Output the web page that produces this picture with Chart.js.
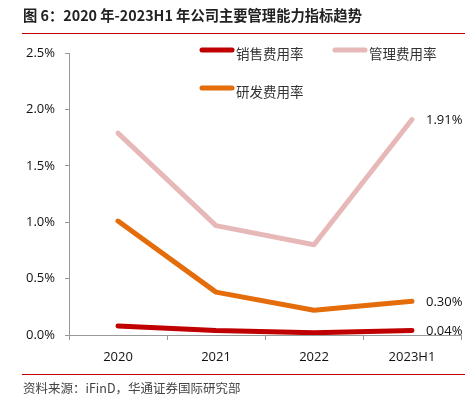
<!DOCTYPE html>
<html><head><meta charset="utf-8">
<script src="https://cdn.jsdelivr.net/npm/chart.js@4/dist/chart.umd.min.js"></script>
<style>
html,body{margin:0;padding:0;background:#fff;}
#wrap{position:relative;width:472px;height:398px;overflow:hidden;}
#c{position:absolute;left:0;top:0;}
#title{position:absolute;left:23px;top:4px;font:bold 14.3px "Noto Sans CJK SC",sans-serif;color:#222;white-space:nowrap;}
#line1{position:absolute;left:22px;top:33px;width:443px;height:1px;background:#C00000;}
#line2{position:absolute;left:22px;top:374px;width:443px;height:1px;background:#C00000;}
#src{position:absolute;left:23px;top:378px;font:12.5px "Noto Sans CJK SC",sans-serif;color:#444;white-space:nowrap;}
</style></head>
<body><div id="wrap">
<canvas id="c" width="472" height="398"></canvas>
<div id="title">图 6：2020 年-2023H1 年公司主要管理能力指标趋势</div>
<div id="line1"></div>
<div id="src">资料来源：iFinD，华通证券国际研究部</div>
<div id="line2"></div>
</div>
<script>
const categories = ["2020", "2021", "2022", "2023H1"];
const seriesNames = ["销售费用率", "管理费用率", "研发费用率"];
const salesRate = [0.08, 0.04, 0.02, 0.04];
const adminRate = [1.79, 0.97, 0.80, 1.91];
const rdRate = [1.01, 0.38, 0.22, 0.30];
const endLabels = ["0.04%", "1.91%", "0.30%"];
const yTicks = [0, 0.5, 1.0, 1.5, 2.0, 2.5];

const colors = ["#C00000", "#E6B9B8", "#E46C0A"];
const numFont = "'Open Sans', 'Liberation Sans', sans-serif";
const cjkFont = "'Noto Sans CJK SC', sans-serif";

const legendPlugin = {
  id: 'customLegend',
  afterDraw(chart) {
    const ctx = chart.ctx;
    const items = [
      {i:0, x:200, y:50},
      {i:1, x:333, y:50},
      {i:2, x:200, y:88}
    ];
    ctx.save();
    items.forEach(it => {
      ctx.strokeStyle = colors[it.i];
      ctx.lineWidth = 5;
      ctx.lineCap = 'round';
      ctx.beginPath();
      ctx.moveTo(it.x + 2, it.y);
      ctx.lineTo(it.x + 32, it.y);
      ctx.stroke();
      ctx.fillStyle = '#333';
      ctx.font = "13.5px " + cjkFont;
      ctx.textBaseline = 'middle';
      ctx.textAlign = 'left';
      ctx.fillText(seriesNames[it.i], it.x + 36, it.y + 4);
    });
    ctx.font = "13px " + numFont;
    ctx.fillStyle = '#111';
    chart.data.datasets.forEach((ds, di) => {
      const meta = chart.getDatasetMeta(di);
      const pt = meta.data[meta.data.length - 1];
      ctx.fillText(endLabels[di], pt.x + 14, pt.y + 1);
    });
    ctx.restore();
  }
};

new Chart(document.getElementById('c'), {
  type: 'line',
  data: {
    labels: categories,
    datasets: [
      {label: seriesNames[0], data: salesRate, borderColor: colors[0]},
      {label: seriesNames[1], data: adminRate, borderColor: colors[1]},
      {label: seriesNames[2], data: rdRate, borderColor: colors[2]}
    ].map(d => Object.assign(d, {borderWidth: 5, pointRadius: 0, tension: 0, fill: false, borderCapStyle: 'round', borderJoinStyle: 'round'}))
  },
  options: {
    responsive: false,
    animation: false,
    layout: {padding: {left: 0, right: 11, top: 53, bottom: 0}},
    plugins: {legend: {display: false}, tooltip: {enabled: false}},
    scales: {
      x: {
        offset: true,
        grid: {display: true, drawOnChartArea: false, drawTicks: true, tickLength: 5, offset: true, color: '#999'},
        border: {display: true, color: '#999', width: 1},
        ticks: {font: {size: 13, family: numFont}, color: '#111', padding: 9},
        afterFit(s) { s.height = 398 - 335; }
      },
      y: {
        min: 0, max: 2.5,
        afterBuildTicks(s) { s.ticks = yTicks.map(v => ({value: v})); },
        grid: {display: true, drawOnChartArea: false, drawTicks: true, tickLength: 4, color: '#999'},
        border: {display: true, color: '#999', width: 1},
        ticks: {font: {size: 13, family: numFont}, color: '#111', padding: 10,
          callback: v => v.toFixed(1) + '%'},
        afterFit(s) { s.width = 69; }
      }
    }
  },
  plugins: [legendPlugin]
});
</script>
</body></html>
